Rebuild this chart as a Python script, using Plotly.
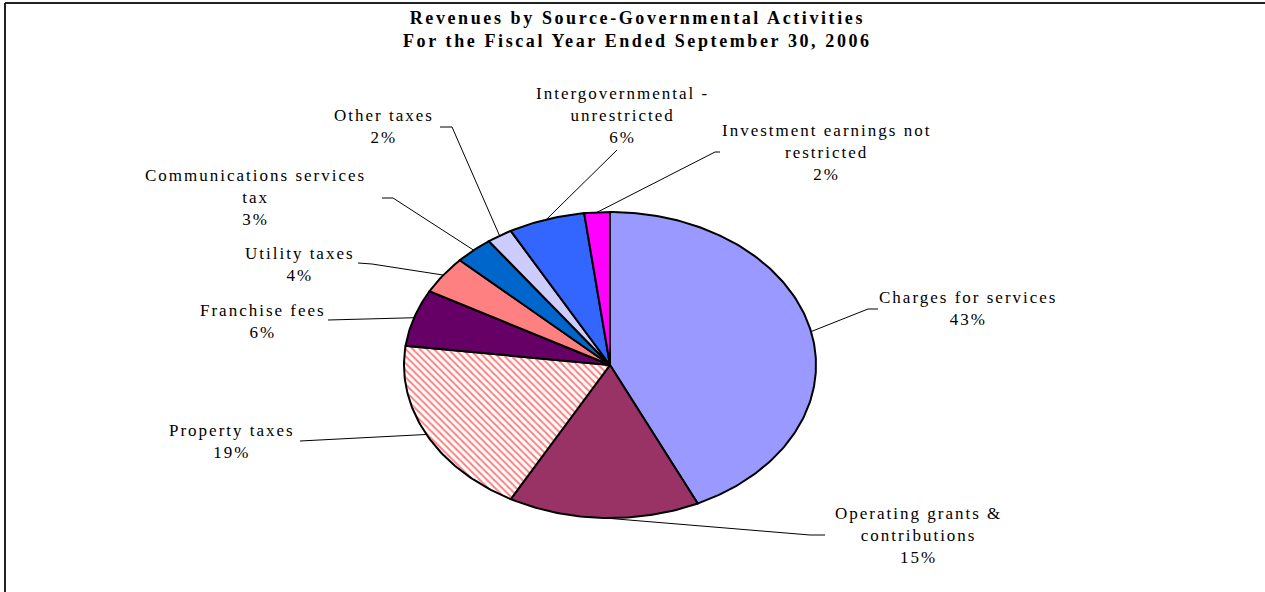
import numpy as np
import plotly.graph_objects as go

# ---------------- data ----------------
categories = [
    "Charges for services",
    "Operating grants & contributions",
    "Property taxes",
    "Franchise fees",
    "Utility taxes",
    "Communications services tax",
    "Other taxes",
    "Intergovernmental - unrestricted",
    "Investment earnings not restricted",
]
values = [43, 15, 19, 6, 4, 3, 2, 6, 2]
label_lines = [
    ["Charges for services"],
    ["Operating grants &", "contributions"],
    ["Property taxes"],
    ["Franchise fees"],
    ["Utility taxes"],
    ["Communications services", "tax"],
    ["Other taxes"],
    ["Intergovernmental -", "unrestricted"],
    ["Investment earnings not", "restricted"],
]
slice_colors = ["#9999FF", "#993366", "#FF0000", "#660066", "#FF8080",
                "#0066CC", "#CCCCFF", "#3366FF", "#FF00FF"]
hatched = [False, False, True, False, False, False, False, False, False]
title_lines = ["Revenues by Source-Governmental Activities",
               "For the Fiscal Year Ended September 30, 2006"]

# ---------------- layout (pixels) ----------------
W, H = 1265, 592
CX, CY, RX, RY = 610, 365, 206, 153      # ellipse centre / radii

# label block centre (px) and leader path start points (px)
label_xy = [(968, 308), (918, 535), (232, 441), (263, 321), (300, 264),
            (255, 198), (384, 126), (622, 115), (826, 152)]
leader_pts = [
    [(878, 309), (868, 309)],
    [(825, 535), (810, 535)],
    [(300, 441)],
    [(328, 320)],
    [(358, 263), (372, 264)],
    [(382, 198), (393, 198)],
    [(440, 127), (452, 127)],
    [(617, 150)],
    [(720, 152), (715, 152)],
]


def dx(px):
    return (px - CX) / RX


def dy(py):
    return (CY - py) / RY


vals = np.array(values, dtype=float)
frac = vals / vals.sum()
cum = np.concatenate([[0], np.cumsum(frac)])

fig = go.Figure()

for i, name in enumerate(categories):
    f0, f1 = cum[i], cum[i + 1]
    n = max(int((f1 - f0) * 400), 4)
    t = np.pi / 2 - 2 * np.pi * np.linspace(f0, f1, n)
    xs = np.concatenate([[0], np.cos(t), [0]])
    ys = np.concatenate([[0], np.sin(t), [0]])
    kw = dict(x=xs, y=ys, mode="lines", fill="toself", name=name,
              line=dict(color="black", width=2), hoveron="fills",
              showlegend=False)
    if hatched[i]:
        kw["fillcolor"] = "#FFFFFF"
        kw["fillpattern"] = dict(shape="\\", fgcolor=slice_colors[i],
                                 bgcolor="#FFFFFF", size=5, solidity=0.4)
    else:
        kw["fillcolor"] = slice_colors[i]
    fig.add_trace(go.Scatter(**kw))

# leader lines: from label to the mid-angle point of each slice's edge
for i in range(len(categories)):
    mid = (cum[i] + cum[i + 1]) / 2
    tm = np.pi / 2 - 2 * np.pi * mid
    lx = [dx(p[0]) for p in leader_pts[i]] + [np.cos(tm)]
    ly = [dy(p[1]) for p in leader_pts[i]] + [np.sin(tm)]
    fig.add_trace(go.Scatter(x=lx, y=ly, mode="lines",
                             line=dict(color="black", width=1),
                             hoverinfo="skip", showlegend=False))


def spaced(s, sp):
    return '<span style="letter-spacing:%spx">%s</span>' % (sp, s)


annotations = []
for i in range(len(categories)):
    pct = "%d%%" % round(frac[i] * 100)
    lines = label_lines[i] + [pct]
    txt = "<br>".join(spaced(s, 2) for s in lines)
    annotations.append(dict(
        x=label_xy[i][0] / W, y=1 - label_xy[i][1] / H, xref="paper", yref="paper",
        text=txt, showarrow=False, xanchor="center", yanchor="middle",
        align="center", font=dict(family="Liberation Serif", size=17, color="black")))

annotations.append(dict(
    x=637 / W, y=1 - 29.5 / H, xref="paper", yref="paper",
    text="<br>".join("<b>" + spaced(s, 2.6) + "</b>" for s in title_lines),
    showarrow=False, xanchor="center", yanchor="middle", align="center",
    font=dict(family="Liberation Serif", size=18, color="black")))

fig.update_layout(
    width=W, height=H,
    margin=dict(l=0, r=0, t=0, b=0),
    paper_bgcolor="white", plot_bgcolor="white",
    xaxis=dict(range=[dx(0), dx(W)], visible=False, fixedrange=True),
    yaxis=dict(range=[dy(H), dy(0)], visible=False, fixedrange=True),
    annotations=annotations,
    shapes=[
        dict(type="line", xref="paper", yref="paper", x0=5 / W, x1=1,
             y0=1 - 3 / H, y1=1 - 3 / H, line=dict(color="#222222", width=2)),
        dict(type="line", xref="paper", yref="paper", x0=5 / W, x1=5 / W,
             y0=0, y1=1 - 3 / H, line=dict(color="#222222", width=2)),
    ],
    showlegend=False,
)

fig.write_html("out.html")
